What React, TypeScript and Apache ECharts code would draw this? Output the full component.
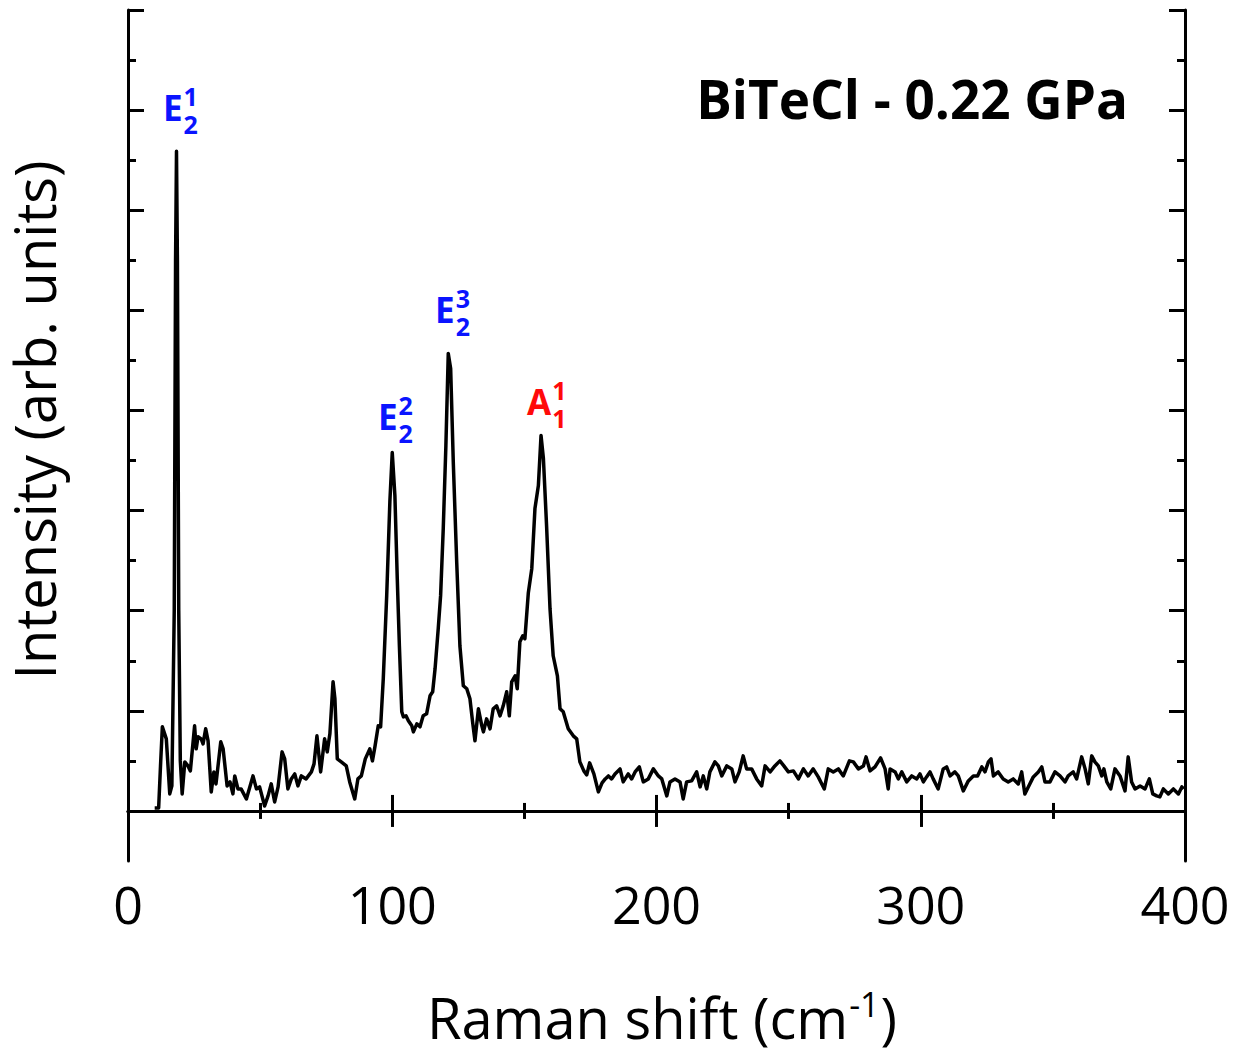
import React, { useEffect, useRef } from "react";
import * as echarts from "echarts";

const ramanShift: number[] = [
  10.1, 11.6, 12.3, 13.0, 14.5, 15.8, 16.6, 17.5, 18.0, 18.35, 18.7, 19.2, 19.8, 20.5,
  21.5, 22.7, 23.6, 25.2, 25.8, 26.5, 27.7, 28.4, 29.4, 30.3, 31.5, 32.5, 33.3, 35.1,
  36.0, 37.5, 38.6, 39.7, 40.4, 41.6, 42.8, 44.8, 47.3, 48.6, 49.8, 51.7, 53.0, 54.2,
  55.5, 56.8, 58.3, 59.3, 60.5, 61.8, 63.1, 64.3, 65.6, 67.4, 69.4, 70.4, 71.5, 72.9,
  74.4, 75.4, 76.4, 77.6, 78.3, 79.2, 80.7, 82.6, 83.9, 85.8, 87.0, 88.3, 89.8, 91.5,
  92.5, 93.5, 94.7, 95.6, 96.6, 97.9, 99.1, 100.0, 101.0, 101.9, 102.7, 103.6, 104.2,
  105.2, 106.1, 107.4, 108.0, 109.3, 110.5, 111.7, 113.0, 114.3, 115.3, 116.2, 117.4,
  118.3, 119.3, 120.3, 121.2, 122.1, 123.1, 124.4, 125.6, 126.9, 128.2, 129.4, 130.4,
  131.3, 132.6, 133.9, 134.5, 135.7, 137.0, 138.2, 139.5, 140.8, 142.0, 143.3, 144.3,
  145.2, 146.5, 147.3, 148.3, 149.4, 150.2, 151.5, 152.8, 154.0, 155.3, 156.3, 157.2,
  158.4, 159.7, 160.9, 162.5, 163.5, 164.7, 166.6, 168.5, 169.8, 171.0, 172.5, 173.6,
  174.7, 176.3, 178.0, 179.4, 180.6, 181.8, 183.0, 184.3, 186.2, 187.4, 189.3, 190.6,
  191.9, 193.5, 195.0, 196.9, 198.8, 200.7, 202.0, 203.9, 205.1, 207.0, 208.9, 210.1,
  211.4, 213.3, 215.2, 216.5, 217.7, 219.0, 220.2, 222.1, 223.4, 224.7, 226.6, 228.5,
  229.7, 231.3, 232.8, 234.1, 236.0, 237.9, 239.8, 241.1, 243.0, 244.8, 246.7, 248.2,
  249.9, 251.8, 253.7, 255.6, 257.4, 259.3, 261.2, 263.5, 265.0, 266.9, 268.8, 270.7,
  273.0, 274.5, 276.4, 278.3, 279.3, 280.8, 282.7, 284.8, 286.5, 287.7, 288.4, 290.3,
  291.5, 292.8, 294.7, 296.6, 298.5, 299.7, 301.0, 302.2, 303.5, 304.7, 306.6, 308.5,
  309.8, 311.1, 312.9, 314.2, 316.1, 318.0, 319.9, 321.5, 323.1, 324.3, 325.6, 326.6,
  327.5, 329.3, 331.2, 333.1, 335.0, 336.9, 338.2, 339.4, 340.7, 342.6, 344.5, 345.8,
  347.0, 348.9, 350.8, 352.7, 354.6, 355.8, 357.7, 359.0, 360.9, 362.2, 363.4, 364.7,
  365.9, 367.2, 368.5, 369.3, 370.4, 371.9, 373.5, 375.4, 377.3, 378.5, 379.8, 381.1,
  383.0, 384.9, 386.5, 387.8, 389.3, 390.5, 391.8, 393.7, 395.6, 397.5, 398.8, 399.5,
];

const intensity: number[] = [
  0.03, 0.03, 0.45, 0.84, 0.72, 0.17, 0.25, 2.0, 5.5, 6.59, 5.5, 2.0, 0.5, 0.17,
  0.49, 0.45, 0.40, 0.85, 0.62, 0.74, 0.72, 0.67, 0.82, 0.70, 0.19, 0.39, 0.27, 0.69,
  0.62, 0.25, 0.29, 0.17, 0.35, 0.22, 0.22, 0.12, 0.35, 0.22, 0.24, 0.05, 0.15, 0.27,
  0.09, 0.24, 0.59, 0.52, 0.22, 0.32, 0.37, 0.25, 0.35, 0.32, 0.39, 0.47, 0.75, 0.39,
  0.72, 0.59, 0.77, 1.29, 1.12, 0.52, 0.49, 0.45, 0.29, 0.12, 0.32, 0.35, 0.52, 0.62,
  0.50, 0.65, 0.85, 0.84, 1.32, 2.15, 3.09, 3.58, 3.15, 2.32, 1.65, 0.99, 0.94,
  0.95, 0.90, 0.85, 0.79, 0.87, 0.84, 0.95, 0.97, 1.15, 1.19, 1.42, 1.82,
  2.15, 2.82, 3.65, 4.57, 4.42, 3.48, 2.48, 1.65, 1.25, 1.22, 1.12, 0.89,
  0.70, 1.02, 0.85, 0.79, 0.92, 0.82, 1.02, 1.05, 0.95, 1.05, 1.19, 0.95,
  1.29, 1.35, 1.22, 1.69, 1.75, 1.72, 2.18, 2.42, 3.02, 3.25, 3.75, 3.52,
  2.85, 2.02, 1.55, 1.35, 1.02, 0.99, 0.82, 0.75, 0.72, 0.49, 0.40, 0.36,
  0.48, 0.37, 0.19, 0.28, 0.32, 0.35, 0.32, 0.37, 0.42, 0.29, 0.37, 0.32,
  0.39, 0.44, 0.29, 0.32, 0.42, 0.35, 0.32, 0.15, 0.29, 0.32, 0.29, 0.12,
  0.29, 0.30, 0.39, 0.24, 0.35, 0.22, 0.39, 0.49, 0.45, 0.35, 0.45, 0.42,
  0.29, 0.39, 0.55, 0.42, 0.42, 0.32, 0.25, 0.45, 0.39, 0.45, 0.50, 0.45,
  0.39, 0.40, 0.32, 0.42, 0.35, 0.42, 0.34, 0.22, 0.42, 0.39, 0.42, 0.35,
  0.50, 0.49, 0.42, 0.45, 0.54, 0.40, 0.44, 0.53, 0.42, 0.22, 0.42, 0.39,
  0.32, 0.39, 0.29, 0.35, 0.32, 0.37, 0.29, 0.34, 0.39, 0.32, 0.22, 0.42,
  0.44, 0.35, 0.39, 0.35, 0.20, 0.30, 0.35, 0.35, 0.44, 0.39, 0.49, 0.52,
  0.35, 0.39, 0.32, 0.29, 0.32, 0.27, 0.39, 0.17, 0.24, 0.34, 0.39, 0.44,
  0.29, 0.29, 0.39, 0.35, 0.29, 0.35, 0.39, 0.32, 0.54, 0.42, 0.27, 0.55,
  0.49, 0.45, 0.35, 0.42, 0.29, 0.22, 0.42, 0.35, 0.20, 0.54, 0.29, 0.22,
  0.25, 0.22, 0.32, 0.17, 0.15, 0.14, 0.22, 0.17, 0.22, 0.17, 0.24, 0.22,
];

const xTickLabels = ["0", "100", "200", "300", "400"];
const yMajorTicks = [0, 1, 2, 3, 4, 5, 6, 7, 8];
const yMinorTicks = [0.5, 1.5, 2.5, 3.5, 4.5, 5.5, 6.5, 7.5];

const titleText = "BiTeCl - 0.22 GPa";
const xTitleMain = "Raman shift (cm";
const xTitleSup = "-1";
const xTitleEnd = ")";
const yTitle = "Intensity (arb. units)";

const peakNames = ["E", "E", "E", "A"];
const peakSup = ["1", "2", "3", "1"];
const peakSub = ["2", "2", "2", "1"];
const peakColors = ["#0a14ff", "#0a14ff", "#0a14ff", "#ff0a0a"];
const peakLabelX = [13.25, 94.6, 116.2, 151.0];
const peakLabelY = [7.03, 3.94, 5.01, 4.09];

const FONT = "'Open Sans', 'Noto Sans', sans-serif";

function measure(text: string, font: string): number {
  const c = document.createElement("canvas");
  const ctx = c.getContext("2d");
  if (!ctx) return text.length * 10;
  ctx.font = font;
  return ctx.measureText(text).width;
}

export default function App() {
  const ref = useRef<HTMLDivElement>(null);

  useEffect(() => {
    if (!ref.current) return;
    const chart = echarts.init(ref.current, undefined, { renderer: "svg" });
    const lineData = ramanShift.map((x, i) => [x, intensity[i]]);

    const axisLine = { show: true, lineStyle: { color: "#000", width: 3 } };
    const yBase = {
      type: "value" as const,
      min: -0.5,
      max: 8,
      splitLine: { show: false },
      axisLabel: { show: false },
    };

    chart.setOption({
      animation: false,
      backgroundColor: "#fff",
      grid: { left: 128, right: 59, top: 10, bottom: 198, containLabel: false },
      xAxis: [
        {
          type: "value",
          min: 0,
          max: 400,
          interval: 100,
          position: "bottom",
          axisLine,
          axisTick: { show: true, inside: true, length: 16, lineStyle: { color: "#000", width: 3 } },
          minorTick: { show: true, splitNumber: 2, length: 8, lineStyle: { color: "#000", width: 3 } },
          splitLine: { show: false },
          minorSplitLine: { show: false },
          axisLabel: {
            show: true,
            margin: 16,
            color: "#000",
            fontSize: 52,
            fontFamily: FONT,
            formatter: (v: number) => xTickLabels[Math.round(v / 100)] ?? String(v),
          },
        },
        {
          type: "value",
          min: 0,
          max: 400,
          interval: 100,
          position: "top",
          axisLine,
          axisTick: { show: true, inside: true, length: 16, lineStyle: { color: "#000", width: 3 } },
          minorTick: { show: true, splitNumber: 2, length: 8, lineStyle: { color: "#000", width: 3 } },
          splitLine: { show: false },
          minorSplitLine: { show: false },
          axisLabel: { show: false },
        },
      ],
      yAxis: [
        {
          ...yBase,
          position: "left",
          axisLine,
          axisTick: { show: true, inside: true, length: 16, customValues: yMajorTicks, lineStyle: { color: "#000", width: 3 } },
        },
        {
          ...yBase,
          position: "left",
          axisLine: { show: false },
          axisTick: { show: true, inside: true, length: 8, customValues: yMinorTicks, lineStyle: { color: "#000", width: 3 } },
        },
        {
          ...yBase,
          position: "right",
          axisLine,
          axisTick: { show: true, inside: true, length: 16, customValues: yMajorTicks, lineStyle: { color: "#000", width: 3 } },
        },
        {
          ...yBase,
          position: "right",
          axisLine: { show: false },
          axisTick: { show: true, inside: true, length: 8, customValues: yMinorTicks, lineStyle: { color: "#000", width: 3 } },
        },
      ],
      series: [
        {
          type: "line",
          data: lineData,
          xAxisIndex: 0,
          yAxisIndex: 0,
          showSymbol: false,
          symbol: "none",
          lineStyle: { color: "#000", width: 3.5, join: "round" },
          z: 5,
        },
      ],
    });

    const graphics: any[] = [];
    graphics.push({
      type: "text",
      style: {
        text: titleText,
        x: 1128,
        y: 98,
        align: "right",
        verticalAlign: "middle",
        font: `bold 53px ${FONT}`,
        fill: "#000",
      },
    });
    graphics.push({
      type: "text",
      x: 34,
      y: 420,
      rotation: Math.PI / 2,
      style: {
        text: yTitle,
        x: 0,
        y: 0,
        align: "center",
        verticalAlign: "middle",
        font: `56px ${FONT}`,
        fill: "#000",
      },
    });
    const fMain = `56px ${FONT}`;
    const fSup = `34px ${FONT}`;
    const w1 = measure(xTitleMain, fMain);
    const w2 = measure(xTitleSup, fSup);
    const w3 = measure(xTitleEnd, fMain);
    const total = w1 + w2 + w3;
    const xStart = 661 - total / 2;
    const xMid = 1017;
    graphics.push({
      type: "text",
      style: { text: xTitleMain, x: xStart, y: xMid, align: "left", verticalAlign: "middle", font: fMain, fill: "#000" },
    });
    graphics.push({
      type: "text",
      style: { text: xTitleSup, x: xStart + w1 + 1, y: xMid - 13, align: "left", verticalAlign: "middle", font: fSup, fill: "#000" },
    });
    graphics.push({
      type: "text",
      style: { text: xTitleEnd, x: xStart + w1 + w2 + 2, y: xMid, align: "left", verticalAlign: "middle", font: fMain, fill: "#000" },
    });

    const fPeak = `bold 35px ${FONT}`;
    const fSmall = `bold 25px ${FONT}`;
    for (let i = 0; i < peakNames.length; i++) {
      const p = chart.convertToPixel({ gridIndex: 0 }, [peakLabelX[i], peakLabelY[i]]) as number[];
      if (!p) continue;
      const w = measure(peakNames[i], fPeak);
      graphics.push({
        type: "text",
        style: { text: peakNames[i], x: p[0], y: p[1], align: "left", verticalAlign: "middle", font: fPeak, fill: peakColors[i] },
      });
      graphics.push({
        type: "text",
        style: { text: peakSup[i], x: p[0] + w + 1, y: p[1] - 11, align: "left", verticalAlign: "middle", font: fSmall, fill: peakColors[i] },
      });
      graphics.push({
        type: "text",
        style: { text: peakSub[i], x: p[0] + w + 1, y: p[1] + 17, align: "left", verticalAlign: "middle", font: fSmall, fill: peakColors[i] },
      });
    }

    chart.setOption({ graphic: graphics });

    return () => {
      chart.dispose();
    };
  }, []);

  return (
    <div
      ref={ref}
      style={{ position: "fixed", left: 0, top: 0, width: 1244, height: 1059, background: "#fff" }}
    />
  );
}
